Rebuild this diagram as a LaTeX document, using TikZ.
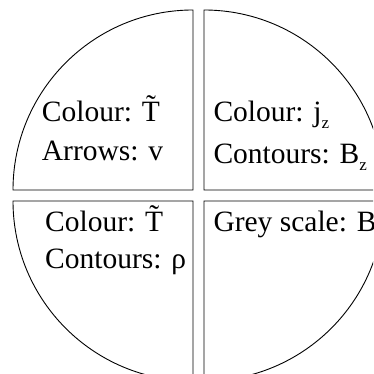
\documentclass[tikz,border=0pt]{standalone}
\usepackage{fontspec}
\setmainfont{Liberation Serif}
\newcommand{\mysubz}{\raisebox{-7pt}{\fontsize{17}{17}\selectfont z}}
\begin{document}
\begin{tikzpicture}[x=1pt,y=1pt,
  quad/.style={draw=black,line width=0.9pt},
  lbl/.style={anchor=base west,inner sep=0pt,font=\fontsize{29.5}{35}\selectfont}]
\useasboundingbox (0,0) rectangle (373,374);
\begin{scope}
\clip (0,0) rectangle (373,374);
% upper left
\draw[quad] (193,184) -- (193,364) arc[start angle=90,end angle=180,radius=180] -- cycle;
% upper right
\draw[quad] (204,184) -- (204,364) arc[start angle=90,end angle=0,radius=180] -- cycle;
% lower left
\draw[quad] (193,173) -- (13,173) arc[start angle=180,end angle=270,radius=180] -- cycle;
% lower right
\draw[quad] (204,173) -- (384,173) arc[start angle=0,end angle=-90,radius=180] -- cycle;
\node[lbl] (ul1) at (41.7,252.3) {Colour: \~{T}};
\node[lbl] (ul2) at (41.7,213) {Arrows: v};
\node[lbl] (ur1) at (213.3,252.3) {Colour: j\mysubz};
\node[lbl] (ur2) at (213.3,210) {Contours: B\mysubz};
\node[lbl] (ll1) at (45,142.3) {Colour: \~{T}};
\node[lbl] (ll2) at (45,105) {Contours: ρ};
\node[lbl] (lr1) at (213.3,142.3) {Grey scale: B};
\end{scope}
\end{tikzpicture}
\end{document}
